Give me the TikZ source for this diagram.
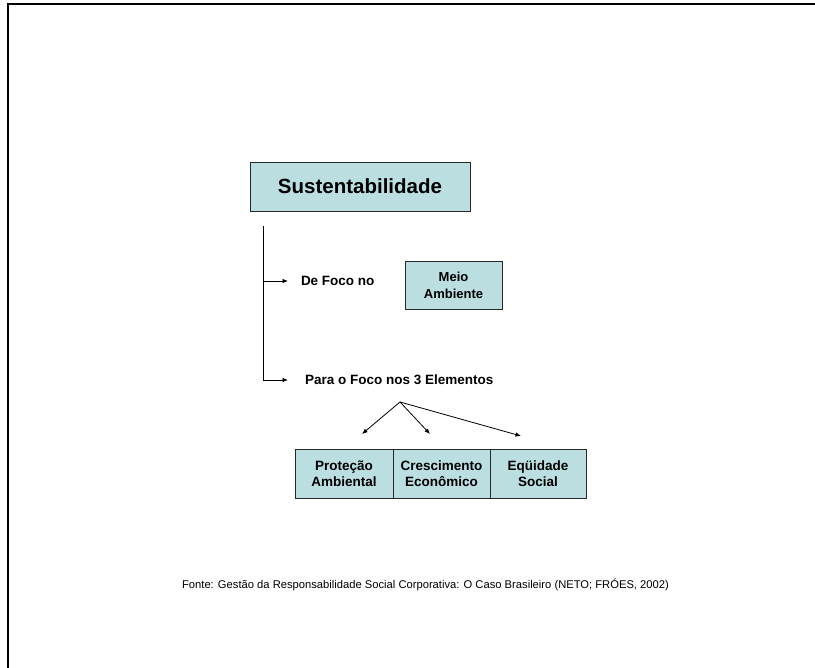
\documentclass[tikz,border=0pt]{standalone}
\usepackage{fontspec}
\setmainfont{Liberation Sans}
\usetikzlibrary{arrows.meta}
\definecolor{boxfill}{RGB}{187,222,225}
\definecolor{boxline}{RGB}{40,40,40}
\tikzset{
  every node/.style={inner sep=0pt, outer sep=0pt},
  cell/.style={draw=boxline, line width=0.9pt, fill=boxfill, align=center, font=\bfseries\fontsize{13.5}{16}\selectfont},
  lbl/.style={anchor=west, font=\bfseries\fontsize{13.5}{16}\selectfont},
  link/.style={line width=0.8pt, -{Latex[length=5.5pt,width=4.5pt]}},
}
\begin{document}
\begin{tikzpicture}[x=1pt,y=-1pt]
\useasboundingbox (0,0) rectangle (815,668);
% page frame
\draw[line width=2pt] (8,668) -- (8,4) -- (815,4);

% title box
\node[cell, minimum width=220pt, minimum height=49pt, font=\bfseries\fontsize{20.5}{24}\selectfont] (sust) at (360,186.5) {Sustentabilidade};

% branch line
\coordinate (top) at (263,226);
\coordinate (b1) at (263,281);
\coordinate (b2) at (263,380);
\draw[line width=0.8pt] (top) -- (b2);

\node[lbl] (foco1) at (301,281) {De Foco no};
\node[cell, minimum width=97pt, minimum height=48pt, font=\bfseries\fontsize{13}{17}\selectfont] (meio) at (453.5,285) {Meio\\Ambiente};
\draw[link, shorten >=13pt] (b1) -- (foco1.west);

\node[lbl] (foco2) at (305,380) {Para o Foco nos 3 Elementos};
\draw[link, shorten >=17pt] (b2) -- (foco2.west);

% three elements
\coordinate (fork) at (400,402);
\node[cell, minimum width=98pt, minimum height=49pt] (prot) at (344,473.5) {Proteção\\Ambiental};
\node[cell, minimum width=97pt, minimum height=49pt] (cresc) at (441.5,473.5) {Crescimento\\Econômico};
\node[cell, minimum width=96pt, minimum height=49pt] (equi) at (538,473.5) {Eqüidade\\Social};

\coordinate (t1) at (362,434);
\coordinate (t2) at (430,434);
\coordinate (t3) at (521,436);
\draw[link] (fork) -- (t1);
\draw[link] (fork) -- (t2);
\draw[link] (fork) -- (t3);

% source note
\node[font=\fontsize{11.2}{13}\selectfont] (fonte) at (425.5,585) {Fonte: Gestão da Responsabilidade Social Corporativa: O Caso Brasileiro (NETO; FRÓES, 2002)};
\end{tikzpicture}
\end{document}
